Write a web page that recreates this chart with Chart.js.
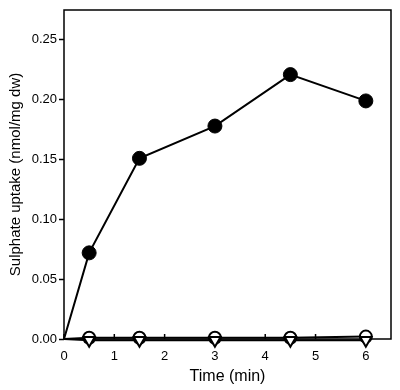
<!DOCTYPE html>
<html><head><meta charset="utf-8">
<script src="https://cdn.jsdelivr.net/npm/chart.js@4/dist/chart.umd.min.js"></script>
<style>html,body{margin:0;padding:0;background:#fff}#wrap{width:400px;height:390px}</style>
</head><body><div id="wrap"><canvas id="c" width="400" height="390"></canvas></div>
<script>
const times = [0, 0.5, 1.5, 3, 4.5, 6];
const filledCircles = [0, 0.072, 0.151, 0.178, 0.221, 0.199];
const openCircles = [0, 0.001, 0.001, 0.001, 0.001, 0.002];
const openTriangles = [0, -0.001, -0.001, -0.001, -0.001, -0.001];
const xTicks = [0, 1, 2, 3, 4, 5, 6];
const yTicks = [0, 0.05, 0.10, 0.15, 0.20, 0.25];

const pts = (vals) => times.map((t, i) => ({x: t, y: vals[i]})).filter(p => p.y !== null);
const radii = (r) => times.map(t => t === 0 ? 0 : r);

const frame = {
  id: 'frame',
  beforeDatasetsDraw(chart) {
    const {ctx, chartArea: a, scales} = chart;
    ctx.save();
    ctx.strokeStyle = '#000';
    ctx.lineWidth = 1.5;
    ctx.strokeRect(a.left, a.top, a.right - a.left, a.bottom - a.top);
    const xs = scales.x;
    xs.ticks.forEach(t => {
      const px = xs.getPixelForValue(t.value);
      ctx.beginPath(); ctx.moveTo(px, a.bottom); ctx.lineTo(px, a.bottom - 5); ctx.stroke();
    });
    ctx.restore();
  }
};

new Chart(document.getElementById('c'), {
  type: 'scatter',
  data: {
    datasets: [
      {data: pts(openTriangles), showLine: true, borderColor: '#000', borderWidth: 2,
       pointStyle: 'triangle', rotation: 180, pointRadius: radii(6.5), pointBackgroundColor: '#fff',
       pointBorderColor: '#000', pointBorderWidth: 2, clip: false, order: 1},
      {data: pts(openCircles), showLine: true, borderColor: '#000', borderWidth: 2,
       pointStyle: 'circle', pointRadius: radii(6), pointBackgroundColor: '#fff',
       pointBorderColor: '#000', pointBorderWidth: 2, clip: false, order: 2},
      {data: pts(filledCircles), showLine: true, borderColor: '#000', borderWidth: 2,
       pointStyle: 'circle', pointRadius: radii(7), pointBackgroundColor: '#000',
       pointBorderColor: '#000', pointBorderWidth: 1, clip: false, order: 3}
    ]
  },
  options: {
    responsive: false, animation: false,
    layout: {padding: {top: 10, right: 9, left: 0, bottom: 0}},
    plugins: {legend: {display: false}, tooltip: {enabled: false}},
    scales: {
      x: {
        type: 'linear', min: 0, max: 6.5,
        afterBuildTicks: s => { s.ticks = xTicks.map(v => ({value: v})); },
        afterFit: s => { s.height = 51; },
        grid: {display: true, drawOnChartArea: false, drawTicks: false, color: '#000'},
        border: {display: false},
        ticks: {color: '#000', padding: 10, font: {family: 'Liberation Sans', size: 13}},
        title: {display: true, text: 'Time (min)', color: '#000', padding: {top: 0, bottom: 4},
                font: {family: 'Liberation Sans', size: 16}}
      },
      y: {
        type: 'linear', min: 0, max: 0.275,
        afterBuildTicks: s => { s.ticks = yTicks.map(v => ({value: v})); },
        afterFit: s => { s.width = 64; },
        grid: {display: true, drawOnChartArea: false, drawTicks: true, tickLength: 5, color: '#000', tickWidth: 1.5},
        border: {display: false},
        ticks: {color: '#000', padding: 2, font: {family: 'Liberation Sans', size: 13},
                callback: v => v.toFixed(2)},
        title: {display: true, text: 'Sulphate uptake (nmol/mg dw)', color: '#000', padding: {top: 7, bottom: 0},
                font: {family: 'Liberation Sans', size: 15}}
      }
    }
  },
  plugins: [frame]
});
</script></body></html>
